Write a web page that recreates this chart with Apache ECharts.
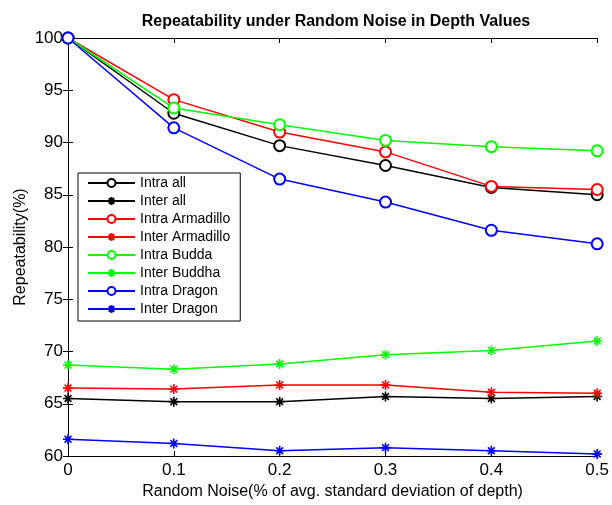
<!DOCTYPE html>
<html><head><meta charset="utf-8">
<script src="https://cdn.jsdelivr.net/npm/echarts@6/dist/echarts.min.js"></script>
<style>html,body{margin:0;padding:0;background:#fff}#c{width:612px;height:505px}</style>
</head><body><div id="c"></div>
<script>
const noise = [0, 0.1, 0.2, 0.3, 0.4, 0.5];
const xTicks = ['0', '0.1', '0.2', '0.3', '0.4', '0.5'];
const intraAll = [100, 92.8, 89.7, 87.8, 85.7, 85.0];
const interAll = [65.5, 65.2, 65.2, 65.7, 65.5, 65.7];
const intraArmadillo = [100, 94.1, 91.0, 89.1, 85.8, 85.5];
const interArmadillo = [66.5, 66.4, 66.8, 66.8, 66.1, 66.0];
const intraBudda = [100, 93.3, 91.7, 90.2, 89.6, 89.2];
const interBuddha = [68.7, 68.3, 68.8, 69.7, 70.1, 71.0];
const intraDragon = [100, 91.4, 86.5, 84.3, 81.6, 80.3];
const interDragon = [61.6, 61.2, 60.5, 60.8, 60.5, 60.2];

const star = 'path://M0,5 L10,5 M5,0 L5,10 M1.6,1.6 L8.4,8.4 M8.4,1.6 L1.6,8.4';
const font = 'Liberation Sans, Arial, Helvetica, sans-serif';

function mk(name, vals, color, intra) {
  return {
    name: name, type: 'line',
    data: noise.map((x, i) => [x, vals[i]]),
    symbol: intra ? 'emptyCircle' : star,
    symbolSize: intra ? 11 : 10,
    showAllSymbol: true,
    lineStyle: { color: color, width: 1.5 },
    itemStyle: { color: color, borderColor: color, borderWidth: 1.6 },
    emphasis: { disabled: true },
    animation: false
  };
}

const chart = echarts.init(document.getElementById('c'));
const axisCommon = {
  axisLine: { lineStyle: { color: '#000', width: 1 } },
  axisTick: { inside: true, length: 5, lineStyle: { color: '#000' } },
  splitLine: { show: false }
};
chart.setOption({
  animation: false,
  backgroundColor: '#fff',
  title: {
    text: 'Repeatability under Random Noise in Depth Values',
    left: 331, top: 9, textAlign: 'center',
    textStyle: { fontFamily: font, fontSize: 16, fontWeight: 'bold', color: '#000' }
  },
  grid: { left: 68, right: 12, top: 38, bottom: 48 },
  legend: {
    orient: 'vertical', left: 78, top: 173,
    padding: [3, 10, 5, 9],
    borderColor: '#000', borderWidth: 1, borderRadius: 0,
    backgroundColor: '#fff',
    itemWidth: 47, itemHeight: 10, itemGap: 4,
    textStyle: { fontFamily: font, fontSize: 14, lineHeight: 14, color: '#000' },
    data: ['Intra all', 'Inter all', 'Intra Armadillo', 'Inter Armadillo', 'Intra Budda', 'Inter Buddha', 'Intra Dragon', 'Inter Dragon']
  },
  xAxis: [
    Object.assign({}, axisCommon, {
      type: 'value', min: 0, max: 0.5, interval: 0.1,
      name: 'Random Noise(% of avg. standard deviation of depth)',
      nameLocation: 'middle', nameGap: 28, nameMoveOverlap: false,
      nameTextStyle: { fontFamily: font, fontSize: 16, color: '#000' },
      axisLabel: { fontFamily: font, fontSize: 17, color: '#000', margin: 6,
        formatter: v => xTicks[Math.round(v * 10)] }
    }),
    Object.assign({}, axisCommon, {
      type: 'value', min: 0, max: 0.5, interval: 0.1, position: 'top',
      axisLabel: { show: false }
    })
  ],
  yAxis: [
    Object.assign({}, axisCommon, {
      type: 'value', min: 60, max: 100, interval: 5,
      name: 'Repeatability(%)', nameLocation: 'middle', nameGap: 39, nameMoveOverlap: false,
      nameTextStyle: { fontFamily: font, fontSize: 16, color: '#000' },
      axisLabel: { fontFamily: font, fontSize: 17, color: '#000', margin: 5 }
    }),
    Object.assign({}, axisCommon, {
      type: 'value', min: 60, max: 100, interval: 5, position: 'right',
      axisLabel: { show: false }
    })
  ],
  series: [
    mk('Intra all', intraAll, '#000000', true),
    mk('Inter all', interAll, '#000000', false),
    mk('Intra Armadillo', intraArmadillo, '#ff0000', true),
    mk('Inter Armadillo', interArmadillo, '#ff0000', false),
    mk('Intra Budda', intraBudda, '#00ff00', true),
    mk('Inter Buddha', interBuddha, '#00ff00', false),
    mk('Intra Dragon', intraDragon, '#0000ff', true),
    mk('Inter Dragon', interDragon, '#0000ff', false)
  ]
});
</script></body></html>
